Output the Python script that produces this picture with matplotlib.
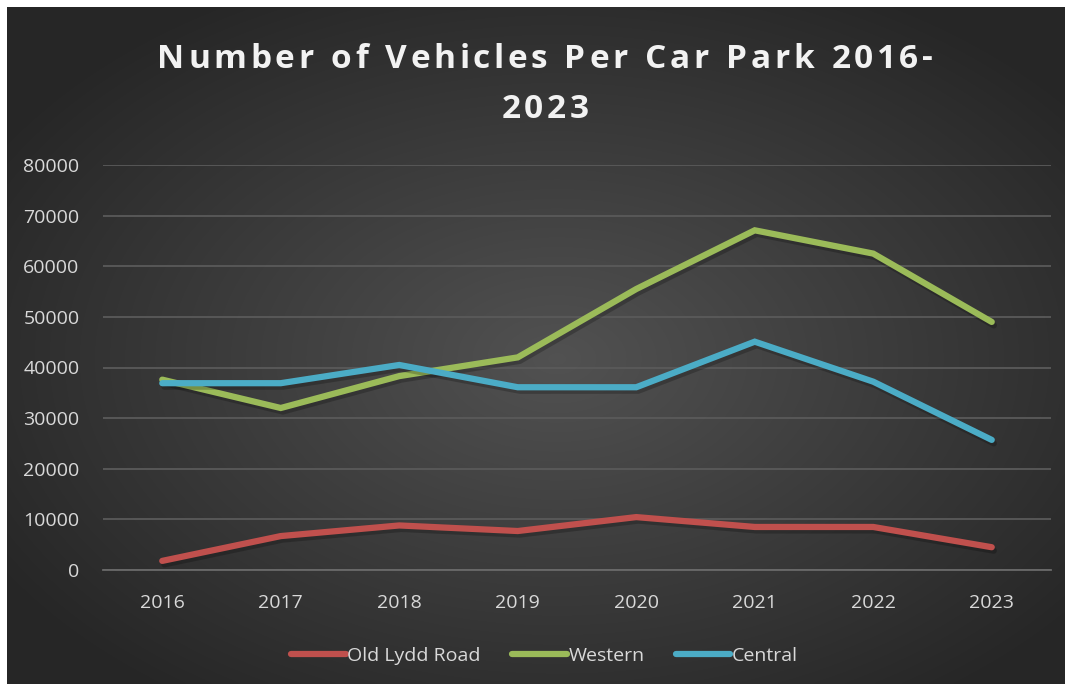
import numpy as np
import matplotlib.pyplot as plt
import matplotlib.patheffects as pe

years = ["2016", "2017", "2018", "2019", "2020", "2021", "2022", "2023"]
old_lydd_road = [1800, 6700, 8800, 7700, 10450, 8500, 8500, 4500]
western = [37600, 32000, 38300, 42000, 55500, 67100, 62500, 49000]
central = [36900, 36900, 40500, 36100, 36100, 45100, 37200, 25700]

series = [
    ("Old Lydd Road", old_lydd_road, "#C0504D"),
    ("Western", western, "#9BBB59"),
    ("Central", central, "#4BACC6"),
]

title_lines = ["Number of Vehicles Per Car Park 2016-", "2023"]

plt.rcParams['font.family'] = ['Open Sans', 'DejaVu Sans']

fig = plt.figure(figsize=(10.72, 6.88), dpi=100, facecolor="white")

# dark radial gradient behind everything
bg = fig.add_axes([7 / 1072, 4 / 688, 1058 / 1072, 677 / 688])
yy, xx = np.mgrid[0:1:300j, 0:1:460j]
r = np.sqrt(((xx - 0.52) / 0.62) ** 2 + ((yy - 0.52) / 0.62) ** 2)
shade = np.clip(1 - r, 0, 1)
grey = 0.15 + 0.17 * shade
bg.imshow(np.dstack([grey, grey, grey]), aspect="auto", extent=[0, 1, 0, 1],
          interpolation="bicubic")
bg.set_axis_off()

ax = fig.add_axes([103 / 1072, 118 / 688, 948 / 1072, 405 / 688])
ax.set_facecolor("none")
x = np.arange(len(years))
for name, vals, color in series:
    ax.plot(x, vals, color=color, lw=4.5, label=name, solid_capstyle="round",
            solid_joinstyle="miter",
            path_effects=[pe.SimpleLineShadow(offset=(1.5, -2.5), alpha=0.22,
                                              shadow_color="black"),
                          pe.Normal()])

ax.set_xlim(-0.5, len(years) - 0.5)
ax.set_ylim(0, 80000)
ax.set_yticks(np.arange(0, 80001, 10000))
ax.set_xticks(x)
ax.set_xticklabels(years)
ax.grid(axis="y", color="#5a5a5a", lw=1.3)
ax.set_axisbelow(True)
for side in ["top", "right", "left"]:
    ax.spines[side].set_visible(False)
ax.spines["bottom"].set_color("#6a6a6a")
ax.spines["bottom"].set_linewidth(1.3)
ax.tick_params(axis="both", length=0, colors="#d9d9d9", labelsize=14)
ax.tick_params(axis="y", pad=17)
ax.tick_params(axis="x", pad=17)

# title with extra letter spacing, placed one character at a time
renderer = fig.canvas.get_renderer()
title_kw = dict(color="#f2f2f2", fontsize=24, fontweight="bold",
                va="center", ha="left")
track = 3.6  # extra pixels between characters
cx = 545
for line, cy in zip(title_lines, [59, 109]):
    widths = []
    for ch in line:
        t = fig.text(0, 0, ch if ch != " " else "a", **title_kw)
        w = t.get_window_extent(renderer).width
        if ch == " ":
            w *= 0.5
        widths.append(w)
        t.remove()
    total = sum(widths) + track * (len(line) - 1)
    px = cx - total / 2
    for ch, w in zip(line, widths):
        if ch != " ":
            fig.text(px / 1072, 1 - cy / 688, ch, **title_kw)
        px += w + track

leg = fig.legend(loc="center", bbox_to_anchor=(0.508, 0.047), ncol=3,
                 frameon=False, fontsize=14, handlelength=2.8,
                 handletextpad=0.1, columnspacing=1.6)
for t in leg.get_texts():
    t.set_color("#d9d9d9")
for h in leg.get_lines():
    h.set_linewidth(4.5)
    h.set_solid_capstyle("round")
    h.set_path_effects([])

fig.savefig("out.png", dpi=100, facecolor="white")
